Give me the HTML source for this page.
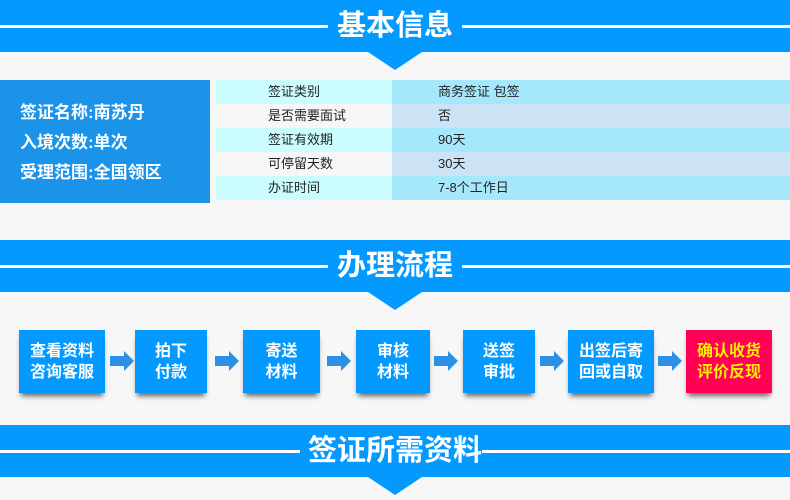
<!DOCTYPE html>
<html><head><meta charset="utf-8"><style>
*{margin:0;padding:0;box-sizing:border-box}
body{width:790px;height:500px;background:#f7f7f7;position:relative;overflow:hidden;font-family:"Liberation Sans","Noto Sans CJK SC",sans-serif}
.ban{position:absolute;left:0;width:790px;height:52px;background:#0399fe}
.ban .ln{position:absolute;top:25px;height:3px;background:#fff}
.ban .t{position:absolute;top:0;left:0;width:790px;text-align:center;line-height:52px;color:#fff;font-size:29px;font-weight:bold}
.tri{position:absolute;width:0;height:0;border-left:27px solid transparent;border-right:27px solid transparent;border-top:18px solid #0399fe;left:368px}
.lb{position:absolute;left:0;top:80px;width:210px;height:123px;background:#1a93e8;color:#fff;font-size:17px;font-weight:bold;padding:18px 0 0 20px;line-height:30px}
.row{position:absolute;left:216px;width:574px;height:24px;font-size:13px;color:#222;line-height:24px}
.row span{position:absolute;top:0;height:24px}
.c1{left:0;width:176px;padding-left:52px}
.c2{left:176px;width:398px;padding-left:46px}
.box{position:absolute;top:330px;height:63px;background:#0399fe;color:#fff;font-size:16px;font-weight:bold;text-align:center;line-height:21px;padding-top:11px;box-shadow:0 5px 5px -2px rgba(0,0,0,.6)}
</style></head><body>
<div class="ban" style="top:0"><div class="ln" style="left:0;width:328px"></div><div class="ln" style="left:462px;width:328px"></div><div class="t">基本信息</div></div>
<div class="tri" style="top:52px"></div>
<div class="lb">签证名称:南苏丹<br>入境次数:单次<br>受理范围:全国领区</div>
<div class="row" style="top:80px"><span class="c1" style="background:#ccfdfe">签证类别</span><span class="c2" style="background:#a6e8fb">商务签证 包签</span></div>
<div class="row" style="top:104px"><span class="c1" style="background:#f6f6f6">是否需要面试</span><span class="c2" style="background:#cbe3f5">否</span></div>
<div class="row" style="top:128px"><span class="c1" style="background:#ccfdfe">签证有效期</span><span class="c2" style="background:#a6e8fb">90天</span></div>
<div class="row" style="top:152px"><span class="c1" style="background:#f6f6f6">可停留天数</span><span class="c2" style="background:#cbe3f5">30天</span></div>
<div class="row" style="top:176px"><span class="c1" style="background:#ccfdfe">办证时间</span><span class="c2" style="background:#a6e8fb">7-8个工作日</span></div>
<div class="ban" style="top:240px"><div class="ln" style="left:0;width:328px"></div><div class="ln" style="left:462px;width:328px"></div><div class="t">办理流程</div></div>
<div class="tri" style="top:292px"></div>
<div class="box" style="left:19px;width:86px">查看资料<br>咨询客服</div>
<div class="box" style="left:135px;width:72px">拍下<br>付款</div>
<div class="box" style="left:243px;width:77px">寄送<br>材料</div>
<div class="box" style="left:356px;width:74px">审核<br>材料</div>
<div class="box" style="left:463px;width:72px">送签<br>审批</div>
<div class="box" style="left:568px;width:86px">出签后寄<br>回或自取</div>
<div class="box" style="left:686px;width:86px;background:#ff0055;color:#ffee00">确认收货<br>评价反现</div>
<svg width="790" height="500" style="position:absolute;left:0;top:0">
<g fill="#2b90e6">
<path d="M110 356h14v-5l10 10-10 10v-5h-14z"/>
<path d="M215 356h14v-5l10 10-10 10v-5h-14z"/>
<path d="M327 356h14v-5l10 10-10 10v-5h-14z"/>
<path d="M434 356h14v-5l10 10-10 10v-5h-14z"/>
<path d="M540 356h14v-5l10 10-10 10v-5h-14z"/>
<path d="M658 356h14v-5l10 10-10 10v-5h-14z"/>
</g></svg>
<div class="ban" style="top:425px"><div class="ln" style="left:0;width:300px"></div><div class="ln" style="left:482px;width:308px"></div><div class="t">签证所需资料</div></div>
<div class="tri" style="top:477px"></div>
</body></html>
